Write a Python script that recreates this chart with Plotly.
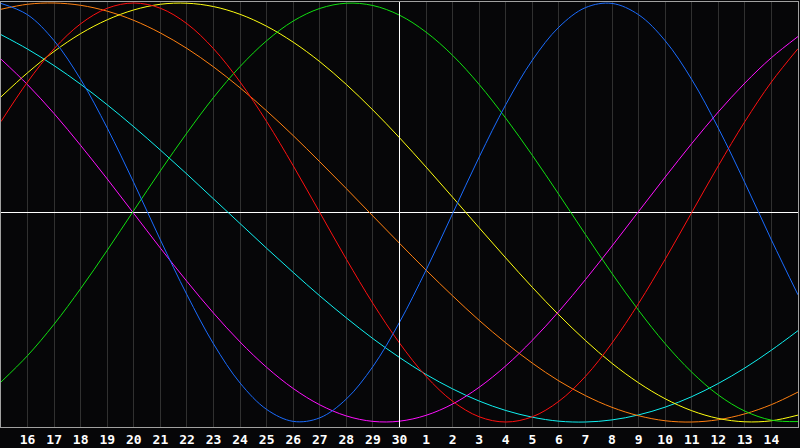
import plotly.graph_objects as go

# Day positions (0 = the 15th of the previous month, 30 = the 15th of this month)
days = list(range(31))
tick_pos = list(range(1, 30))
tick_labels = [str(d) for d in range(16, 31)] + [str(d) for d in range(1, 15)]

# Curve values (-1 .. 1), one per day
blue = [0.998, 0.944, 0.82, 0.635, 0.403, 0.142, -0.131, -0.393, -0.627, -0.814, -0.94, -0.997, -0.98, -0.89,
        -0.735, -0.524, -0.275, -0.005, 0.265, 0.515, 0.727, 0.885, 0.978, 0.998, 0.944, 0.82, 0.635, 0.403,
        0.142, -0.131, -0.393]
red = [0.434, 0.623, 0.782, 0.901, 0.975, 1.0, 0.975, 0.901, 0.782, 0.623, 0.434, 0.223, 0.0, -0.223, -0.434,
       -0.623, -0.782, -0.901, -0.975, -1.0, -0.975, -0.901, -0.782, -0.623, -0.434, -0.223, 0.0, 0.223, 0.434,
       0.623, 0.782]
green = [-0.809, -0.683, -0.533, -0.363, -0.18, 0.01, 0.199, 0.38, 0.549, 0.697, 0.82, 0.914, 0.974, 0.999,
         0.988, 0.942, 0.861, 0.75, 0.611, 0.45, 0.273, 0.086, -0.105, -0.291, -0.467, -0.626, -0.762, -0.871,
         -0.948, -0.991, -0.998]
magenta = [0.732, 0.61, 0.472, 0.32, 0.16, -0.005, -0.17, -0.329, -0.48, -0.618, -0.739, -0.84, -0.918, -0.971,
           -0.997, -0.996, -0.968, -0.914, -0.834, -0.732, -0.61, -0.472, -0.32, -0.16, 0.005, 0.169, 0.329, 0.48,
           0.618, 0.739, 0.84]
cyan = [0.849, 0.78, 0.701, 0.612, 0.514, 0.409, 0.298, 0.183, 0.065, -0.053, -0.171, -0.286, -0.398, -0.503,
        -0.602, -0.692, -0.773, -0.842, -0.9, -0.945, -0.977, -0.996, -1.0, -0.99, -0.966, -0.929, -0.879, -0.816,
        -0.742, -0.657, -0.564]
orange = [0.97, 0.994, 1.0, 0.989, 0.961, 0.917, 0.857, 0.783, 0.695, 0.595, 0.485, 0.367, 0.242, 0.114, -0.017,
          -0.147, -0.275, -0.398, -0.515, -0.622, -0.719, -0.804, -0.874, -0.93, -0.97, -0.994, -1.0, -0.989,
          -0.961, -0.917, -0.857]
yellow = [0.552, 0.667, 0.769, 0.854, 0.92, 0.967, 0.994, 0.999, 0.983, 0.946, 0.889, 0.813, 0.72, 0.611, 0.489,
          0.357, 0.217, 0.073, -0.073, -0.217, -0.357, -0.489, -0.611, -0.72, -0.813, -0.889, -0.946, -0.983,
          -0.999, -0.994, -0.967]

series = [
    (cyan, '#10f0f0'), (orange, '#ff8010'), (yellow, '#ffff10'), (magenta, '#ff10ff'),
    (green, '#10e010'), (red, '#ff1010'), (blue, '#1a6cff'),
]

fig = go.Figure()
for vals, col in series:
    fig.add_trace(go.Scatter(x=days, y=vals, mode='lines', line=dict(color=col, width=1, shape='spline'),
                             hoverinfo='skip'))

fig.update_layout(width=800, height=448, margin=dict(l=1, r=1, t=1, b=20), showlegend=False,
                  paper_bgcolor='#060608', plot_bgcolor='#060608')
fig.update_xaxes(range=[0, 30], tickvals=tick_pos, ticktext=tick_labels, showgrid=True, gridcolor='#303030',
                 gridwidth=1, zeroline=False, showline=True, mirror=True, linecolor='#a0a0a0', ticks='',
                 ticklabelstandoff=0,
                 tickfont=dict(family='DejaVu Sans Mono', size=13, color='white', weight='bold'))
fig.update_yaxes(range=[-1.0238, 1.0048], showgrid=False, zeroline=True, zerolinecolor='white', zerolinewidth=1,
                 showticklabels=False, showline=True, mirror=True, linecolor='#a0a0a0')
fig.add_shape(type='line', xref='x', yref='paper', x0=15, x1=15, y0=0, y1=1,
              line=dict(color='white', width=1), layer='above')
fig.write_html('out.html', config={'displayModeBar': False},
               post_script="document.body.style.margin='0';document.body.style.overflow='hidden';")
